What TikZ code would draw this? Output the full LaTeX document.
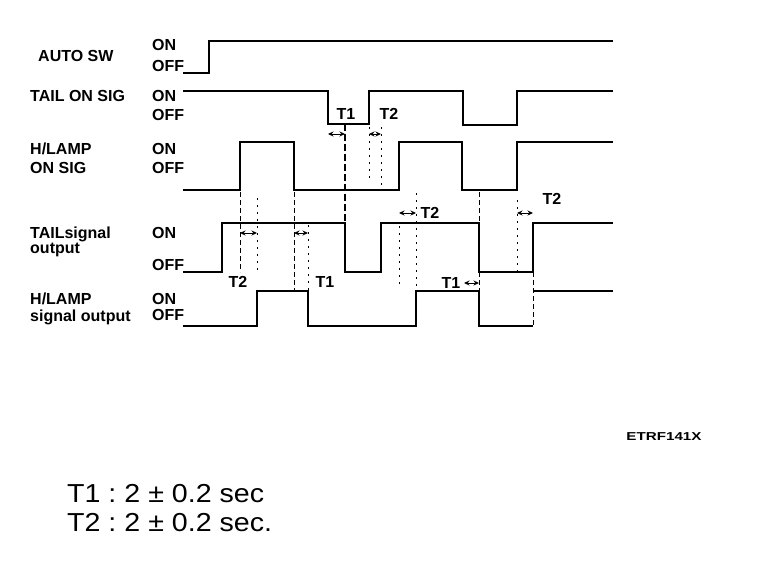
\documentclass[tikz,border=0pt]{standalone}
\usepackage{fontspec}
\setmainfont{Liberation Sans}
\usetikzlibrary{arrows.meta}
\begin{document}
\begin{tikzpicture}[x=1pt,y=-1pt,
  wave/.style={line width=2pt, line join=miter, line cap=butt},
  lbl/.style={font=\fontsize{16}{18}\selectfont\bfseries, anchor=west, inner sep=0pt, text height=11.4pt, text depth=0pt},
  tlbl/.style={font=\fontsize{16}{18}\selectfont\bfseries, inner sep=0pt, text height=11.4pt, text depth=0pt},
  dsh/.style={line width=0.9pt, dash pattern=on 5pt off 3pt},
  dotl/.style={line width=0.9pt, dash pattern=on 2pt off 5pt},
  thickdash/.style={line width=1.8pt, dash pattern=on 7pt off 3pt},
  tarr/.style={{Stealth[length=5.5pt,width=5pt]}-{Stealth[length=5.5pt,width=5pt]}, line width=1pt},
  big/.style={inner sep=0pt, anchor=west, font=\fontsize{26}{30}\selectfont, text height=18.6pt, text depth=0pt}
]
\useasboundingbox (0,0) rectangle (768,582);

% ---------- left labels ----------
\node[lbl] (autosw) at (38,56) {AUTO SW};
\node[lbl] (tailon) at (30,96) {TAIL ON SIG};
\node[lbl] (hlamp1) at (30,149) {H/LAMP};
\node[lbl] (hlamp2) at (30,168) {ON SIG};
\node[lbl] (tails1) at (30,233) {TAILsignal};
\node[lbl] (tails2) at (30,248) {output};
\node[lbl] (hout1) at (30,299) {H/LAMP};
\node[lbl] (hout2) at (30,316) {signal output};

\node[lbl] (on1) at (152,45) {ON};
\node[lbl] (off1) at (152,66) {OFF};
\node[lbl] (on2) at (152,96) {ON};
\node[lbl] (off2) at (152,115) {OFF};
\node[lbl] (on3) at (152,149) {ON};
\node[lbl] (off3) at (152,168) {OFF};
\node[lbl] (on4) at (152,233) {ON};
\node[lbl] (off4) at (152,265) {OFF};
\node[lbl] (on5) at (152,299) {ON};
\node[lbl] (off5) at (152,315) {OFF};

% ---------- waveforms ----------
\draw[wave] (183,73) -- (209,73) -- (209,41) -- (613,41);
\draw[wave] (183,91) -- (328,91) -- (328,124) -- (369,124) -- (369,91) -- (463,91)
  -- (463,125) -- (517,125) -- (517,91) -- (613,91);
\draw[wave] (183,190) -- (240,190) -- (240,142) -- (294,142) -- (294,190) -- (399,190)
  -- (399,142) -- (462,142) -- (462,190) -- (517,190) -- (517,142) -- (613,142);
\draw[wave] (183,272) -- (222,272) -- (222,223) -- (345,223) -- (345,272) -- (381,272)
  -- (381,223) -- (479,223) -- (479,272) -- (533,272) -- (533,223) -- (613,223);
\draw[wave] (183,326) -- (257,326) -- (257,291) -- (308,291) -- (308,326) -- (416,326)
  -- (416,291) -- (479,291) -- (479,326) -- (533,326);
\draw[wave] (533,291) -- (613,291);
\draw[dsh] (533,272) -- (533,327);

% ---------- timing guides ----------
\draw[thickdash] (345,124) -- (345,223);
\draw[dotl] (369,127) -- (369,180);
\draw[dotl] (381,127) -- (381,190);
\draw[dsh] (240,192) -- (240,272);
\draw[dotl] (257,198) -- (257,274);
\draw[dsh] (294,192) -- (294,291);
\draw[dotl] (308,225) -- (308,290);
\draw[dotl] (399,226) -- (399,288);
\draw[dotl] (416,193) -- (416,289);
\draw[dsh] (479,192) -- (479,223);
\draw[dsh] (479,272) -- (479,291);
\draw[dotl] (517,200) -- (517,272);

% ---------- T arrows and labels ----------
\coordinate (a1) at (328,134); \coordinate (b1) at (345,134);
\draw[tarr] (a1) -- (b1);
\coordinate (a2) at (369,134); \coordinate (b2) at (381,134);
\draw[tarr] (a2) -- (b2);
\node[tlbl] (t1a) at (346,114) {T1};
\node[tlbl] (t2a) at (389,114) {T2};

\coordinate (a3) at (240,233); \coordinate (b3) at (257,233);
\draw[tarr] (a3) -- (b3);
\coordinate (a4) at (294,233); \coordinate (b4) at (308,233);
\draw[tarr] (a4) -- (b4);
\node[tlbl] (t2b) at (238,282) {T2};
\node[tlbl] (t1b) at (325,282) {T1};

\coordinate (a5) at (399,213); \coordinate (b5) at (416,213);
\draw[tarr] (a5) -- (b5);
\node[tlbl] (t2c) at (430,213) {T2};

\coordinate (a6) at (464,283); \coordinate (b6) at (479,283);
\draw[tarr] (a6) -- (b6);
\node[tlbl] (t1c) at (451,283) {T1};

\coordinate (a7) at (517,213); \coordinate (b7) at (533,213);
\draw[tarr] (a7) -- (b7);
\node[tlbl] (t2d) at (552,199) {T2};

% ---------- footer ----------
\node[inner sep=0pt, font=\fontsize{11.5}{13}\selectfont\bfseries] (code) at (664,437) {\scalebox{1.32}[1]{ETRF141X}};
\node[big] (t1def) at (67,493) {\scalebox{1.1}[1]{T1 :\ 2 ± 0.2 sec}};
\node[big] (t2def) at (67,522) {\scalebox{1.1}[1]{T2 :\ 2 ± 0.2 sec.}};
\end{tikzpicture}
\end{document}
